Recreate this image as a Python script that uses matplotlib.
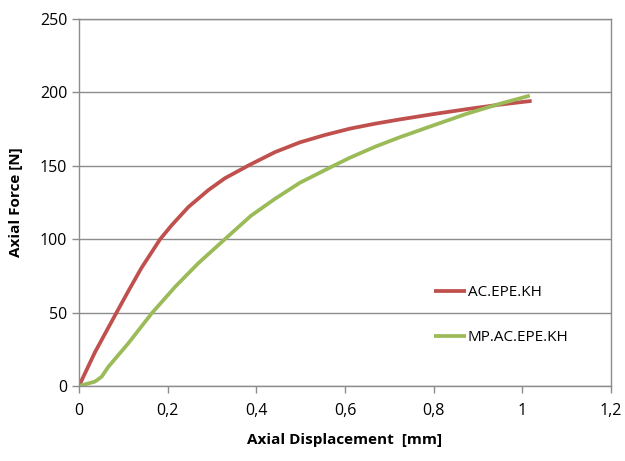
import matplotlib.pyplot as plt
from matplotlib.ticker import FuncFormatter

plt.rcParams['font.family'] = ['Open Sans', 'DejaVu Sans']

# curve AC.EPE.KH (red)
x_ac = [0, 0.036, 0.081, 0.111, 0.141, 0.183, 0.209, 0.247, 0.292, 0.329, 0.384,
        0.442, 0.4985, 0.555, 0.611, 0.668, 0.724, 0.799, 0.875, 0.95, 1.021]
y_ac = [0, 23, 48, 64.5, 80.5, 100, 109.5, 122, 133.5, 141.5, 150.5,
        159.3, 166, 171, 175.3, 178.7, 181.6, 185.2, 188.6, 191.7, 194.2]

# curve MP.AC.EPE.KH (green)
x_mp = [0, 0.036, 0.051, 0.066, 0.111, 0.164, 0.217, 0.269, 0.329, 0.388, 0.442,
        0.4985, 0.574, 0.611, 0.668, 0.724, 0.799, 0.875, 0.95, 1.017]
y_mp = [0, 3, 6.3, 13, 29, 49.5, 67.6, 83.6, 100, 116, 127.5,
        138.5, 150, 155.5, 163, 169.5, 177.5, 185.5, 192.3, 197.8]

x_ticks = [0, 0.2, 0.4, 0.6, 0.8, 1.0, 1.2]
y_ticks = [0, 50, 100, 150, 200, 250]

fig = plt.figure(figsize=(6.25, 4.61), dpi=100)
ax = fig.add_axes([0.1264, 0.1627, 0.8512, 0.7961])

ax.plot(x_ac, y_ac, color='#C0504D', lw=2.7, label='AC.EPE.KH',
        solid_capstyle='butt', solid_joinstyle='round')
ax.plot(x_mp, y_mp, color='#9BBB59', lw=2.7, label='MP.AC.EPE.KH',
        solid_capstyle='butt', solid_joinstyle='round')

ax.set_xlim(0, 1.2)
ax.set_ylim(0, 250)
ax.set_xticks(x_ticks)
ax.set_yticks(y_ticks)

def comma(v, pos):
    s = ('%g' % v)
    return s.replace('.', ',')

ax.xaxis.set_major_formatter(FuncFormatter(comma))
ax.yaxis.grid(True, color='#8C8C8C', lw=1)
ax.set_axisbelow(True)
for sp in ax.spines.values():
    sp.set_color('#8C8C8C')
    sp.set_linewidth(1)
ax.tick_params(axis='both', colors='#8C8C8C', labelcolor='black', labelsize=11.5, length=5, width=1)
ax.tick_params(axis='x', pad=7)

ax.set_xlabel('Axial Displacement  [mm]', fontsize=11, fontweight='bold', labelpad=10)
ax.set_ylabel('Axial Force [N]', fontsize=11, fontweight='bold', labelpad=12)

ax.legend(loc='center left', bbox_to_anchor=(0.652, 0.193), frameon=False, fontsize=11,
          borderpad=0, handlelength=2.1, handletextpad=0.15, labelspacing=2.0)

fig.savefig('out.png', dpi=100)
